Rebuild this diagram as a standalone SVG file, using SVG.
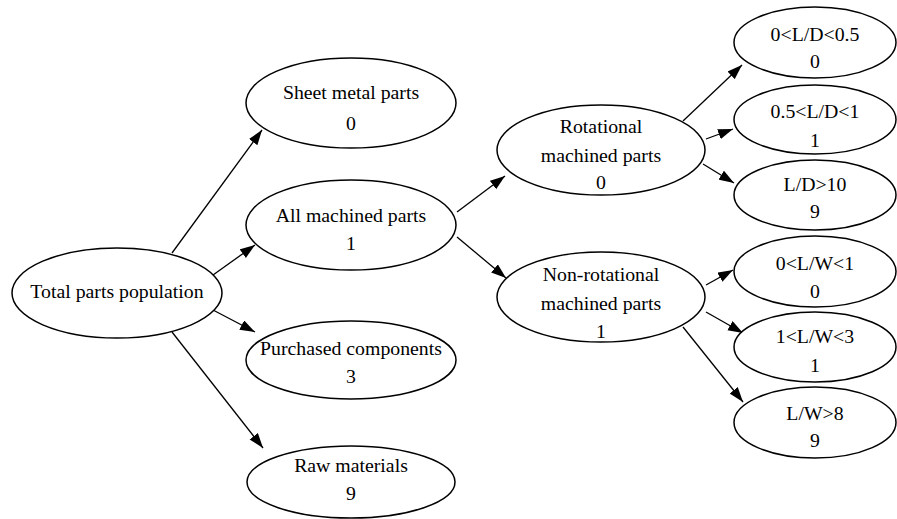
<svg xmlns="http://www.w3.org/2000/svg" width="897" height="519" viewBox="0 0 897 519">
  <style>
    .node ellipse { fill: #ffffff; stroke: #000000; stroke-width: 1.5; }
    .node text { font-family: 'Liberation Serif', 'Times New Roman', Times, serif; font-size: 19.8px; fill: #000000; text-anchor: middle; }
    .edge line { stroke: #000000; stroke-width: 1.3; marker-end: url(#arrow); }
  </style>
  <defs>
    <marker id="arrow" markerUnits="userSpaceOnUse" markerWidth="16" markerHeight="11" refX="15" refY="5.25" orient="auto">
      <path d="M0,0 L15,5.25 L0,10.5 z" fill="#000000"/>
    </marker>
  </defs>
  <rect width="897" height="519" fill="#ffffff"/>

  <!-- connectors -->
  <g id="edges" class="edge">
    <line x1="172" y1="253" x2="262" y2="130"/>
    <line x1="213" y1="275" x2="255" y2="245"/>
    <line x1="213" y1="310" x2="255" y2="332"/>
    <line x1="172" y1="332" x2="263" y2="448"/>
    <line x1="457" y1="212" x2="505" y2="176"/>
    <line x1="457" y1="237" x2="506" y2="278"/>
    <line x1="683" y1="121" x2="742" y2="65"/>
    <line x1="706" y1="139" x2="733" y2="129"/>
    <line x1="703" y1="164" x2="734" y2="183"/>
    <line x1="706" y1="285" x2="733" y2="270"/>
    <line x1="706" y1="312" x2="743" y2="333"/>
    <line x1="683" y1="327" x2="743" y2="402"/>
  </g>

  <!-- nodes -->
  <g id="total" class="node">
    <ellipse cx="117" cy="293" rx="105" ry="45"/>
    <text x="117" y="298">Total parts population</text>
  </g>
  <g id="sheet" class="node">
    <ellipse cx="351" cy="103" rx="105" ry="45"/>
    <text x="351" y="99">Sheet metal parts</text>
    <text x="351" y="130">0</text>
  </g>
  <g id="machined" class="node">
    <ellipse cx="351" cy="225" rx="105" ry="45"/>
    <text x="351" y="222">All machined parts</text>
    <text x="351" y="250">1</text>
  </g>
  <g id="purchased" class="node">
    <ellipse cx="351" cy="360" rx="105" ry="39"/>
    <text x="351" y="355">Purchased components</text>
    <text x="351" y="383">3</text>
  </g>
  <g id="raw" class="node">
    <ellipse cx="351" cy="482" rx="104" ry="36"/>
    <text x="351" y="472">Raw materials</text>
    <text x="351" y="500">9</text>
  </g>
  <g id="rotational" class="node">
    <ellipse cx="601" cy="150" rx="104" ry="45"/>
    <text x="601" y="133">Rotational</text>
    <text x="601" y="162">machined parts</text>
    <text x="601" y="189">0</text>
  </g>
  <g id="nonrotational" class="node">
    <ellipse cx="601" cy="297" rx="104" ry="45"/>
    <text x="601" y="281">Non-rotational</text>
    <text x="601" y="310">machined parts</text>
    <text x="601" y="338">1</text>
  </g>
  <g id="ld1" class="node">
    <ellipse cx="815" cy="42.5" rx="81" ry="35.5"/>
    <text x="815" y="41">0&lt;L/D&lt;0.5</text>
    <text x="815" y="68">0</text>
  </g>
  <g id="ld2" class="node">
    <ellipse cx="815" cy="119.5" rx="81" ry="34.5"/>
    <text x="815" y="118">0.5&lt;L/D&lt;1</text>
    <text x="815" y="147">1</text>
  </g>
  <g id="ld3" class="node">
    <ellipse cx="815" cy="195" rx="81" ry="35"/>
    <text x="815" y="191">L/D&gt;10</text>
    <text x="815" y="218">9</text>
  </g>
  <g id="lw1" class="node">
    <ellipse cx="815" cy="271.5" rx="81" ry="35.5"/>
    <text x="815" y="270">0&lt;L/W&lt;1</text>
    <text x="815" y="298">0</text>
  </g>
  <g id="lw2" class="node">
    <ellipse cx="815" cy="347" rx="81" ry="35"/>
    <text x="815" y="343">1&lt;L/W&lt;3</text>
    <text x="815" y="372">1</text>
  </g>
  <g id="lw3" class="node">
    <ellipse cx="815" cy="422.5" rx="81" ry="35.5"/>
    <text x="815" y="420">L/W&gt;8</text>
    <text x="815" y="447">9</text>
  </g>
</svg>
